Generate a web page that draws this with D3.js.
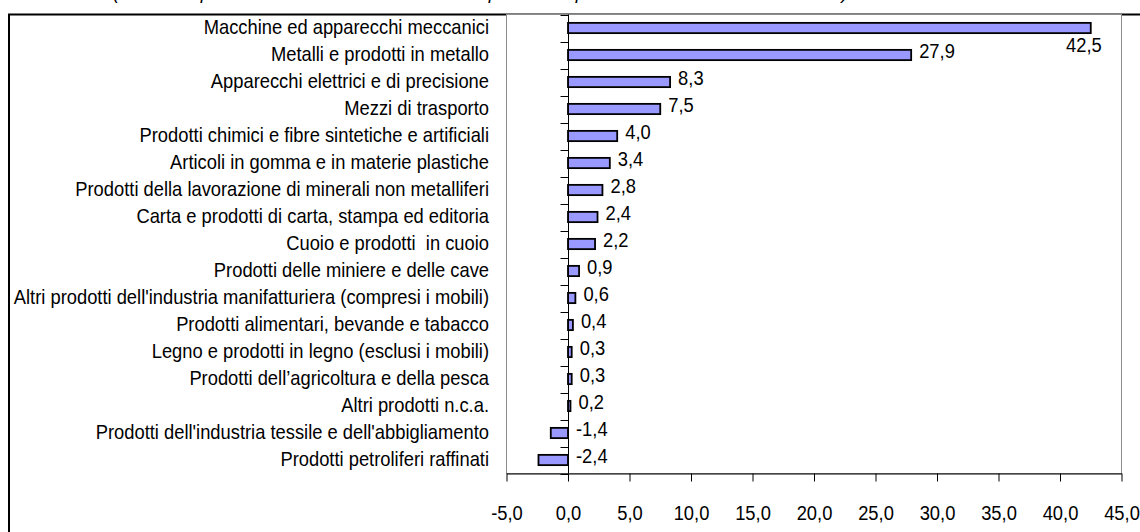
<!DOCTYPE html>
<html>
<head>
<meta charset="utf-8">
<script src="https://cdn.jsdelivr.net/npm/d3@7"></script>
<style>
  html, body { margin: 0; padding: 0; background: #fff; overflow: hidden; }
  svg { display: block; }
  text { font-family: "Liberation Sans", Arial, sans-serif; fill: #000; }
</style>
</head>
<body>
<svg id="chart" width="1140" height="532"></svg>
<script>
const categories = [
  "Macchine ed apparecchi meccanici",
  "Metalli e prodotti in metallo",
  "Apparecchi elettrici e di precisione",
  "Mezzi di trasporto",
  "Prodotti chimici e fibre sintetiche e artificiali",
  "Articoli in gomma e in materie plastiche",
  "Prodotti della lavorazione di minerali non metalliferi",
  "Carta e prodotti di carta, stampa ed editoria",
  "Cuoio e prodotti  in cuoio",
  "Prodotti delle miniere e delle cave",
  "Altri prodotti dell'industria manifatturiera (compresi i mobili)",
  "Prodotti alimentari, bevande e tabacco",
  "Legno e prodotti in legno (esclusi i mobili)",
  "Prodotti dell\u2019agricoltura e della pesca",
  "Altri prodotti n.c.a.",
  "Prodotti dell'industria tessile e dell'abbigliamento",
  "Prodotti petroliferi raffinati"
];
const values = [42.5, 27.9, 8.3, 7.5, 4.0, 3.4, 2.8, 2.4, 2.2, 0.9, 0.6, 0.4, 0.3, 0.3, 0.2, -1.4, -2.4];
const xTicks = [-5, 0, 5, 10, 15, 20, 25, 30, 35, 40, 45];
const titleText = "(contributi percentuali alla variazione delle esportazioni per settore di attività economica)";

const fmt = d => d.toFixed(1).replace(".", ",");

const svg = d3.select("#chart");
const plot = { left: 506.5, right: 1121.5, top: 14.5, bottom: 473.5 };
const FS = 20.5;      // font size
const SX = 0.895;     // horizontal condensing of the narrow font

// partially visible title (cut off at top, as in the original)
svg.append("text")
  .attr("x", 113).attr("y", -1)
  .attr("textLength", 735).attr("lengthAdjust", "spacing")
  .style("font-size", "19px").style("font-style", "italic")
  .text(titleText);

// outer frame
svg.append("rect")
  .attr("x", 9).attr("y", 14.5).attr("width", 1300).attr("height", 700)
  .attr("fill", "#fff").attr("stroke", "#000").attr("stroke-width", 2);

// plot area
svg.append("rect")
  .attr("x", plot.left).attr("y", plot.top)
  .attr("width", plot.right - plot.left).attr("height", plot.bottom - plot.top)
  .attr("fill", "#fff").attr("stroke", "#8c8c8c").attr("stroke-width", 1);

const x = d3.scaleLinear().domain([-5, 45]).range([plot.left, plot.right]);
const pad = 0.62;
const y = d3.scaleBand().domain(categories).range([plot.top, plot.bottom])
  .paddingInner(pad).paddingOuter(pad / 2);
const step = y.step();

// bars
svg.append("g").selectAll("rect").data(values).join("rect")
  .attr("x", d => x(Math.min(0, d)))
  .attr("y", (d, i) => y(categories[i]))
  .attr("width", d => Math.abs(x(d) - x(0)))
  .attr("height", y.bandwidth())
  .attr("fill", "#9999ff").attr("stroke", "#000").attr("stroke-width", 1.8);

// category axis line + ticks at band boundaries
const x0 = Math.round(x(0)) + 0.5;
svg.append("line").attr("x1", x0).attr("x2", x0)
  .attr("y1", plot.top).attr("y2", plot.bottom).attr("stroke", "#000");
const boundaries = d3.range(categories.length + 1).map(i => plot.top + i * step);
svg.append("g").selectAll("line").data(boundaries).join("line")
  .attr("x1", x0 - 8).attr("x2", x0)
  .attr("y1", d => Math.round(d) + 0.5).attr("y2", d => Math.round(d) + 0.5)
  .attr("stroke", "#000");

// category labels
svg.append("g").selectAll("text").data(categories).join("text")
  .attr("transform", d => `translate(489,${y(d) + y.bandwidth() / 2 - 1}) scale(${SX},1)`)
  .attr("text-anchor", "end")
  .attr("dominant-baseline", "central")
  .style("font-size", FS + "px")
  .style("white-space", "pre")
  .text(d => d);

// value labels
const vl = svg.append("g").selectAll("text").data(values).join("text")
  .style("font-size", FS + "px")
  .attr("dominant-baseline", "central")
  .text(d => fmt(d));
vl.each(function(d, i) {
  const t = d3.select(this);
  const cy = y(categories[i]) + y.bandwidth() / 2;
  const w = this.getComputedTextLength() * SX;
  const lx = x(Math.max(0, d)) + 8;
  if (lx + w > plot.right) {
    t.attr("transform", `translate(${x(d) + 11},${cy + 17}) scale(${SX},1)`).attr("text-anchor", "end");
  } else {
    t.attr("transform", `translate(${lx},${cy - 4}) scale(${SX},1)`).attr("text-anchor", "start");
  }
});

// x axis
const xAxis = d3.axisBottom(x).tickValues(xTicks).tickFormat(fmt)
  .tickSize(8).tickSizeOuter(0).tickPadding(0);
const gx = svg.append("g").attr("transform", `translate(0,${plot.bottom})`).call(xAxis);
gx.select(".domain").attr("stroke", "#000");
gx.selectAll(".tick line").attr("stroke", "#000");
gx.selectAll(".tick text")
  .attr("y", null).attr("dy", null)
  .attr("dominant-baseline", "central")
  .attr("transform", `translate(0,39) scale(${SX},1)`)
  .style("font-size", FS + "px")
  .style("font-family", "'Liberation Sans', Arial, sans-serif");
</script>
</body>
</html>
